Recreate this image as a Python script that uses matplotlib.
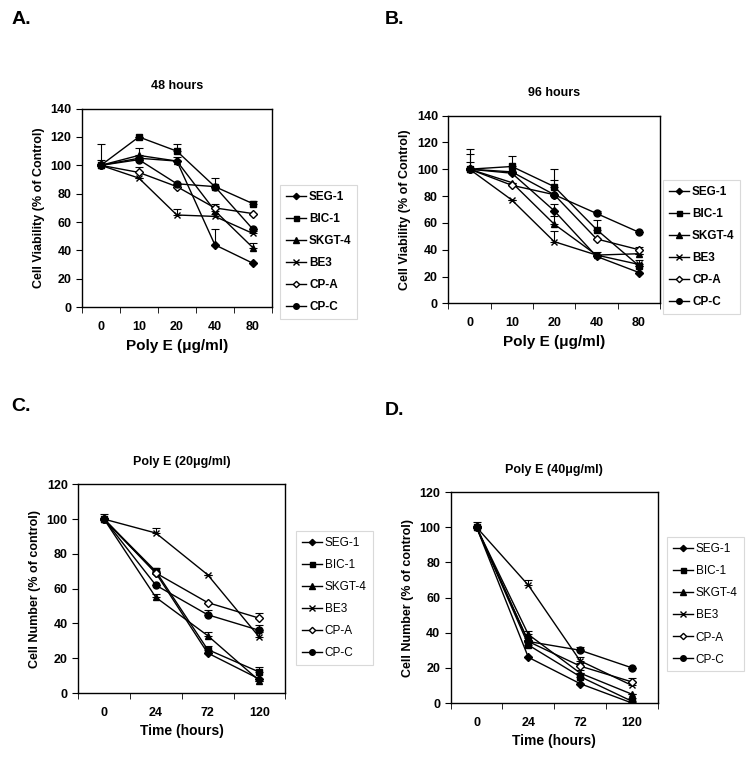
import matplotlib
matplotlib.use("Agg")
import matplotlib.pyplot as plt
import numpy as np

plt.rcParams['font.family'] = ['Liberation Sans', 'DejaVu Sans']

series = ['SEG-1', 'BIC-1', 'SKGT-4', 'BE3', 'CP-A', 'CP-C']
markers = ['D', 's', '^', 'x', 'D', 'o']
faces = ['black', 'black', 'black', 'black', 'white', 'black']
msizes = [4, 4.5, 5, 5, 4, 5]

dose_labels = ['0', '10', '20', '40', '80']
time_labels = ['0', '24', '72', '120']

# panel A: 48 hours, viability vs dose
a_seg1 = [100, 105, 103, 44, 31]
a_bic1 = [100, 120, 110, 85, 73]
a_skgt4 = [100, 107, 103, 68, 42]
a_be3 = [100, 91, 65, 64, 52]
a_cpa = [100, 95, 85, 70, 66]
a_cpc = [100, 104, 87, 85, 55]
a_err = [[0, 0, 0, 11, 0], [15, 0, 5, 6, 2], [0, 5, 3, 3, 3],
         [0, 0, 4, 2, 2], [4, 4, 0, 3, 0], [0, 0, 0, 0, 0]]

# panel B: 96 hours
b_seg1 = [100, 97, 69, 35, 23]
b_bic1 = [100, 102, 87, 55, 28]
b_skgt4 = [100, 90, 59, 36, 37]
b_be3 = [100, 77, 46, 36, 29]
b_cpa = [100, 88, 81, 48, 40]
b_cpc = [100, 98, 81, 67, 53]
b_err = [[5, 0, 5, 0, 0], [15, 8, 13, 7, 0], [11, 0, 6, 0, 0],
         [0, 0, 8, 2, 3], [0, 0, 0, 0, 2], [0, 0, 11, 2, 0]]

# panel C: Poly E 20 ug/ml over time
c_seg1 = [100, 69, 23, 8]
c_bic1 = [100, 70, 25, 12]
c_skgt4 = [100, 55, 33, 7]
c_be3 = [100, 92, 68, 32]
c_cpa = [100, 69, 52, 43]
c_cpc = [100, 62, 45, 36]
c_err = [[0, 0, 0, 0], [3, 2, 2, 3], [0, 2, 2, 0],
         [0, 3, 0, 3], [0, 0, 0, 3], [0, 0, 3, 3]]

# panel D: Poly E 40 ug/ml over time
d_seg1 = [100, 26, 11, 0]
d_bic1 = [100, 33, 15, 1]
d_skgt4 = [100, 39, 17, 5]
d_be3 = [100, 67, 24, 10]
d_cpa = [100, 35, 21, 12]
d_cpc = [100, 35, 30, 20]
d_err = [[0, 0, 0, 0], [3, 3, 2, 2], [0, 2, 2, 0],
         [0, 3, 2, 2], [0, 2, 2, 2], [0, 0, 2, 0]]

fig = plt.figure(figsize=(7.51, 7.70), dpi=100)


def draw(rect, data, errs, xlabels, ymax, title, ylabel, xlabel, legpos, legbold):
    ax = fig.add_axes(rect)
    x = np.arange(len(xlabels))
    handles = []
    for i, vals in enumerate(data):
        ax.errorbar(x, vals, yerr=[np.zeros(len(vals)), errs[i]], fmt='none',
                    ecolor='black', elinewidth=0.8, capsize=3, capthick=0.8)
        h, = ax.plot(x, vals, color='black', lw=1, marker=markers[i],
                     ms=msizes[i], mfc=faces[i], mec='black', mew=1)
        handles.append(h)
    ax.set_xlim(-0.5, len(xlabels) - 0.5)
    ax.set_ylim(0, ymax)
    ax.set_yticks(np.arange(0, ymax + 1, 20))
    ax.set_xticks(x)
    ax.set_xticklabels(xlabels)
    ax.set_xticks(np.arange(-0.5, len(xlabels)), minor=True)
    ax.tick_params(axis='x', which='major', length=0, pad=10)
    ax.tick_params(axis='x', which='minor', length=4, direction='out')
    ax.tick_params(axis='y', length=4, direction='out')
    for lab in ax.get_xticklabels() + ax.get_yticklabels():
        lab.set_fontweight('bold')
        lab.set_fontsize(9)
    for sp in ax.spines.values():
        sp.set_linewidth(1)
    ax.set_title(title, fontsize=9, fontweight='bold', pad=14)
    ax.set_ylabel(ylabel, fontsize=9, fontweight='bold')
    ax.set_xlabel(xlabel, fontsize=11 if 'Poly' in xlabel else 10, fontweight='bold')
    leg = fig.legend(handles, series, loc='upper left', bbox_to_anchor=legpos,
                     frameon=True, fancybox=False, handlelength=1.7,
                     labelspacing=0.85, borderpad=0.5, handletextpad=0.25,
                     borderaxespad=0, markerscale=0.8,
                     prop={'size': 8.5, 'weight': 'bold' if legbold else 'normal'})
    leg.get_frame().set_edgecolor('#d0d0d0')
    leg.get_frame().set_linewidth(0.8)
    return ax


draw([0.109, 0.601, 0.253, 0.258], [a_seg1, a_bic1, a_skgt4, a_be3, a_cpa, a_cpc],
     a_err, dose_labels, 140, '48 hours', 'Cell Viability (% of Control)',
     'Poly E (μg/ml)', (0.373, 0.760), True)
draw([0.597, 0.606, 0.282, 0.244], [b_seg1, b_bic1, b_skgt4, b_be3, b_cpa, b_cpc],
     b_err, dose_labels, 140, '96 hours', 'Cell Viability (% of Control)',
     'Poly E (μg/ml)', (0.883, 0.766), True)
draw([0.104, 0.100, 0.276, 0.271], [c_seg1, c_bic1, c_skgt4, c_be3, c_cpa, c_cpc],
     c_err, time_labels, 120, 'Poly E (20μg/ml)', 'Cell Number (% of control)',
     'Time (hours)', (0.394, 0.310), False)
draw([0.600, 0.087, 0.276, 0.274], [d_seg1, d_bic1, d_skgt4, d_be3, d_cpa, d_cpc],
     d_err, time_labels, 120, 'Poly E (40μg/ml)', 'Cell Number (% of control)',
     'Time (hours)', (0.888, 0.302), False)

for lbl, xx, yy in [('A.', 0.015, 0.975), ('B.', 0.512, 0.975),
                    ('C.', 0.015, 0.472), ('D.', 0.512, 0.467)]:
    fig.text(xx, yy, lbl, fontsize=14, fontweight='bold', va='center')

fig.savefig('out.png', dpi=100)
